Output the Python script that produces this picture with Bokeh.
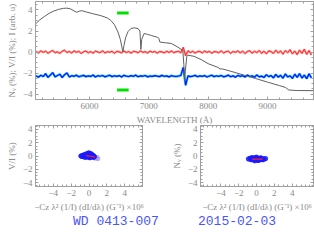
from bokeh.plotting import figure
from bokeh.models import LinearAxis, FixedTicker, Range1d, Div
from bokeh.layouts import column, row
from bokeh.embed import file_html
from bokeh.resources import INLINE

# ---------------- data ----------------
# intensity spectrum (arbitrary units), traced
INT_WAVE = [5100, 5160, 5240, 5320, 5400, 5480, 5560, 5620, 5680, 5740, 5780, 5830, 5870, 5950,
            6050, 6190, 6300, 6360, 6420, 6480, 6520, 6545, 6562, 6580, 6610, 6650, 6700, 6760,
            6820, 6850, 6866, 6880, 6920, 6980, 7040, 7150, 7170, 7185, 7280, 7377, 7480, 7573,
            7590, 7600, 7615, 7640, 7660, 7760, 7880, 8000, 8164, 8200, 8240, 8400, 8600, 8800,
            9000, 9200, 9300, 9360, 9500, 9780]
INT_VAL = [2.72, 3.05, 3.37, 3.68, 3.90, 4.05, 4.15, 4.17, 4.10, 3.90, 3.78, 3.88, 3.93, 3.80,
           3.65, 3.46, 3.24, 3.00, 2.60, 1.90, 1.20, 0.50, 0.02, 0.60, 1.40, 1.95, 2.25, 2.30,
           2.22, 2.00, 0.25, 1.20, 1.76, 1.68, 1.58, 1.39, 1.30, 0.95, 0.88, 0.82, 0.50, 0.16,
           -1.20, -2.70, -1.80, -0.40, -0.30, -0.40, -0.70, -1.10, -1.45, -1.60, -1.60, -1.85,
           -2.18, -2.51, -2.85, -3.18, -3.35, -3.60, -3.65, -3.66]

# wavelength sampling of the polarisation spectra
POL_WAVE = [5100, 5140, 5180, 5220, 5260, 5300, 5340, 5380, 5420, 5460,
            5500, 5540, 5580, 5620, 5660, 5700, 5740, 5780, 5820, 5860,
            5900, 5940, 5980, 6020, 6060, 6100, 6140, 6180, 6220, 6260,
            6300, 6340, 6380, 6420, 6460, 6500, 6540, 6580, 6620, 6660,
            6700, 6740, 6780, 6820, 6860, 6900, 6940, 6980, 7020, 7060,
            7100, 7140, 7180, 7220, 7260, 7300, 7340, 7380, 7420, 7460,
            7500, 7540, 7580, 7620, 7660, 7700, 7740, 7780, 7820, 7860,
            7900, 7940, 7980, 8020, 8060, 8100, 8140, 8180, 8220, 8260,
            8300, 8340, 8380, 8420, 8460, 8500, 8540, 8580, 8620, 8660,
            8700, 8740, 8780, 8820, 8860, 8900, 8940, 8980, 9020, 9060,
            9100, 9140, 9180, 9220, 9260, 9300, 9340, 9380, 9420, 9460,
            9500, 9540, 9580, 9620, 9660, 9700, 9740]
# V/I (%)
VI_VAL = [0.05, -0.08, 0.12, -0.03, 0.09, -0.11, 0.04, 0.15, -0.06, 0.02,
          -0.12, 0.08, 0.18, -0.04, 0.06, -0.09, 0.11, -0.02, 0.07, -0.13,
          0.03, 0.10, -0.07, 0.05, -0.10, 0.09, 0.01, -0.05, 0.12, -0.08,
          0.04, -0.02, 0.08, -0.11, 0.06, 0.02, -0.07, 0.10, -0.04, 0.05,
          -0.09, 0.07, 0.03, -0.06, 0.11, -0.03, 0.04, -0.08, 0.09, -0.02,
          0.06, -0.10, 0.05, 0.02, -0.07, 0.08, -0.04, 0.10, -0.05, 0.03,
          0.07, -0.06, 0.45, -0.35, 0.12, -0.05, 0.08, -0.09, 0.04, 0.06,
          -0.08, 0.10, -0.03, 0.07, -0.11, 0.05, 0.02, -0.06, 0.12, -0.09,
          0.04, 0.08, -0.12, 0.06, -0.03, 0.11, -0.07, 0.09, -0.14, 0.05,
          0.13, -0.10, 0.07, -0.05, 0.15, -0.12, 0.09, -0.16, 0.11, 0.04,
          -0.13, 0.18, -0.09, 0.12, -0.20, 0.15, -0.06, 0.22, -0.17, 0.10,
          -0.24, 0.19, -0.12, 0.26, -0.21, 0.14, -0.28]
# N_V (%) shown with its offset
NV_VAL = [-2.25, -2.38, -2.20, -2.32, -2.05, -2.40, -2.18, -1.95, -2.35, -2.22,
          -2.10, -2.42, -2.15, -1.98, -2.36, -2.24, -2.30, -2.19, -2.34, -2.27,
          -2.21, -2.33, -2.26, -2.31, -2.18, -2.36, -2.24, -2.29, -2.22, -2.35,
          -2.27, -2.20, -2.33, -2.25, -2.30, -2.23, -2.36, -2.21, -2.28, -2.32,
          -2.24, -2.30, -2.19, -2.34, -2.26, -2.29, -2.22, -2.35, -2.27, -2.31,
          -2.23, -2.28, -2.33, -2.21, -2.30, -2.26, -2.35, -2.24, -2.29, -2.32,
          -2.27, -2.22, -1.45, -3.15, -2.25, -2.33, -2.28, -2.21, -2.34, -2.26,
          -2.30, -2.23, -2.36, -2.27, -2.20, -2.33, -2.25, -2.31, -2.22, -2.35,
          -2.28, -2.19, -2.34, -2.26, -2.38, -2.21, -2.30, -2.24, -2.37, -2.18,
          -2.32, -2.25, -2.40, -2.16, -2.35, -2.28, -2.42, -2.14, -2.33, -2.22,
          -2.45, -2.12, -2.38, -2.20, -2.48, -2.08, -2.36, -2.25, -2.50, -2.10,
          -2.40, -2.05, -2.46, -2.18, -2.52, -2.07, -2.44]

# spectral region used for the regression (green bars)
GREEN_WAVE = [6465, 6660]
GREEN_LEVEL = [3.7, -3.6]

# regression: V/I vs derivative term
VI_REG_X = [-0.9, -0.7, -0.6, -0.5, -0.4, -0.3, -0.3, -0.2, -0.1, -0.1, 0.0, 0.0, 0.1, 0.1,
            0.2, 0.2, 0.3, 0.3, 0.4, 0.5, 0.5, 0.6, -0.8, -0.5, 0.0, 0.2, 0.4, -0.2, 0.1]
VI_REG_Y = [0.0, 0.1, -0.1, 0.2, 0.0, 0.3, -0.2, 0.1, 0.4, -0.1, 0.2, 0.0, 0.3, -0.2,
            0.1, -0.1, 0.2, 0.0, -0.1, 0.0, -0.2, -0.1, -0.05, -0.15, 0.45, 0.35, 0.15, 0.25, -0.25]
VI_OUT_X = [0.6, 0.8, 0.9, 0.7, 1.0]
VI_OUT_Y = [-0.3, -0.35, -0.2, -0.15, -0.4]
VI_FIT_X = [-0.3, 0.7]
VI_FIT_Y = [0.05, -0.15]

# regression: N_V vs derivative term
NV_REG_X = [-0.9, -0.7, -0.6, -0.4, -0.3, -0.2, -0.1, 0.0, 0.1, 0.2, 0.3, 0.4, 0.5, 0.6,
            0.8, 1.0, -0.5, -0.2, 0.0, 0.2, 0.4, 0.7, -0.6, -0.3, 0.1, 0.3, 0.6, -0.1]
NV_REG_Y = [-0.45, -0.35, -0.55, -0.40, -0.60, -0.30, -0.50, -0.40, -0.65, -0.35, -0.55,
            -0.45, -0.30, -0.50, -0.45, -0.40, -0.25, -0.70, -0.20, -0.60, -0.35, -0.55,
            -0.45, -0.38, -0.48, -0.62, -0.42, -0.28]
NV_FIT_X = [-0.5, 0.7]
NV_FIT_Y = [-0.48, -0.48]

X_TICKS_TOP = [6000, 7000, 8000, 9000]
Y_TICKS = [-4, -2, 0, 2, 4]
X_TICKS_REG = [-4, -2, 0, 2, 4]

STAR = "WD 0413-007"
DATE = "2015-02-03"

# ---------------- style ----------------
TXT = "#8a8a8a"
FRAME = "#a0a0a0"
FONT = "Liberation Serif"
MINUS = {-4: "\u22124", -2: "\u22122"}


def style_axis(ax, major, minor, labels=True):
    ax.ticker = FixedTicker(ticks=major, minor_ticks=minor)
    ax.axis_line_color = FRAME
    ax.major_tick_line_color = FRAME
    ax.minor_tick_line_color = FRAME
    ax.major_tick_in = 3
    ax.major_tick_out = 0
    ax.minor_tick_in = 2
    ax.minor_tick_out = 0
    ax.major_label_text_font = FONT
    ax.major_label_text_color = TXT
    ax.axis_label_text_font = FONT
    ax.axis_label_text_color = TXT
    ax.axis_label_text_font_style = "normal"
    if labels:
        ax.major_label_text_font_size = "9px"
        ax.major_label_standoff = 3
        ax.axis_label_standoff = 3
        ax.axis_label_text_font_size = "9px"
    else:
        ax.major_label_text_font_size = "0px"
        ax.major_label_text_color = None
        ax.major_label_standoff = 0
        ax.axis_label_standoff = 0


def boxed(p, xmaj, xmin, ymaj, ymin, xlabel, ylabel):
    p.xgrid.visible = False
    p.ygrid.visible = False
    p.outline_line_color = FRAME
    style_axis(p.xaxis[0], xmaj, xmin)
    style_axis(p.yaxis[0], ymaj, ymin)
    p.xaxis[0].axis_label = xlabel
    p.yaxis[0].axis_label = ylabel
    p.xaxis[0].major_label_overrides = MINUS if xmaj[0] < 0 else {}
    p.yaxis[0].major_label_overrides = MINUS
    ta = LinearAxis()
    ra = LinearAxis()
    style_axis(ta, xmaj, xmin, labels=False)
    style_axis(ra, ymaj, ymin, labels=False)
    p.add_layout(ta, "above")
    p.add_layout(ra, "right")


minor_y = [v / 2 for v in range(-9, 10)]
minor_xr = [v / 2 for v in range(-13, 14)]

# ---------------- top panel ----------------
top = figure(width=314, height=130, x_range=Range1d(5090, 9775), y_range=Range1d(-4.5, 4.8),
             output_backend="svg", toolbar_location=None,
             min_border_left=35, min_border_right=1, min_border_top=1, min_border_bottom=31)
boxed(top, X_TICKS_TOP, list(range(5200, 9800, 200)), Y_TICKS, minor_y,
      "WAVELENGTH (\u00c5)", "N\u1d65 (%); V/I (%); I (arb. u)")
top.xaxis[0].axis_label_standoff = 2
top.xaxis[0].major_label_standoff = 4
top.xaxis[0].axis_label_text_font_size = "7px"

top.line(POL_WAVE, VI_VAL, color="#ff9a9a", line_width=2.2)
top.line(POL_WAVE, VI_VAL, color="#ff2a2a", line_width=1)
top.line(POL_WAVE, NV_VAL, color="#30c8ff", line_width=2.4)
top.line(POL_WAVE, NV_VAL, color="#0a14ff", line_width=1.2)
top.line(INT_WAVE, INT_VAL, color="#606060", line_width=1)
top.segment(x0=[GREEN_WAVE[0]] * 2, x1=[GREEN_WAVE[1]] * 2, y0=GREEN_LEVEL, y1=GREEN_LEVEL,
            color="#00e000", line_width=3)

# ---------------- bottom panels ----------------
XLAB = "\u2212Cz \u03bb\u00b2 (1/I) (dI/d\u03bb) (G\u207b\u00b9) \u00d710\u2076"

bl = figure(width=168, height=97, x_range=Range1d(-6, 6), y_range=Range1d(-4.6, 4.6),
            output_backend="svg", toolbar_location=None,
            min_border_left=35, min_border_right=26, min_border_top=2, min_border_bottom=34)
boxed(bl, X_TICKS_REG, minor_xr, Y_TICKS, minor_y, XLAB, "V/I (%)")
bl.scatter(VI_OUT_X, VI_OUT_Y, size=4, color="#a89cff", alpha=0.8)
bl.scatter(VI_REG_X, VI_REG_Y, size=4.5, color="#1a1aff", alpha=0.85)
bl.line(VI_FIT_X, VI_FIT_Y, color="#ff2020", line_width=1.2)

br = figure(width=146, height=97, x_range=Range1d(-6.3, 6.4), y_range=Range1d(-4.6, 4.6),
            output_backend="svg", toolbar_location=None,
            min_border_left=30, min_border_right=1, min_border_top=2, min_border_bottom=34)
boxed(br, X_TICKS_REG, minor_xr, Y_TICKS, minor_y, XLAB, "N\u1d65 (%)")
br.scatter(NV_REG_X, NV_REG_Y, size=4.5, color="#1a1aff", alpha=0.85)
br.line(NV_FIT_X, NV_FIT_Y, color="#ff2020", line_width=1.2)

for p in (bl, br):
    ax = p.xaxis[0]
    ax.major_label_standoff = 2
    ax.axis_label_standoff = 0
    ax.axis_label_text_font = "DejaVu Serif"
    ax.axis_label_text_font_size = "11px"

SPAN = ('<span style="font-family:\'Liberation Mono\';font-size:13px;line-height:14px;'
        'color:#4a55ff;white-space:nowrap">{}</span>')
star_div = Div(text=SPAN.format(STAR), width=95, height=20, margin=(0, 0, 0, 73))
date_div = Div(text=SPAN.format(DATE), width=116, height=20, margin=(0, 0, 0, 30))

bottom = row(bl, br, margin=(-7, 0, 0, 0))
labels = row(star_div, date_div, margin=(-7, 0, 0, 0))
layout = column(top, bottom, labels)
open("out.html", "w").write(file_html(layout, INLINE))
